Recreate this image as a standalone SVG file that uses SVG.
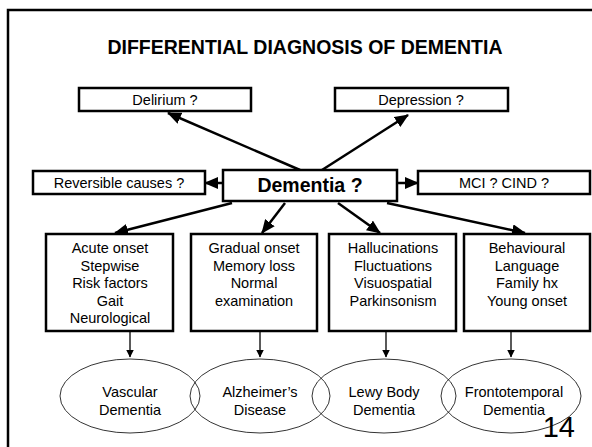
<svg xmlns="http://www.w3.org/2000/svg" width="592" height="447" viewBox="0 0 592 447">
<style>
text{font-family:"Liberation Sans",Arial,sans-serif;fill:#000;text-anchor:middle}
.t{font-size:14.5px}
.b{fill:#fff;stroke:#000;stroke-width:2.5}
.c{stroke:#000;stroke-width:2.5;fill:none}
.s{stroke:#000;stroke-width:1.3;fill:none}
.e{fill:none;stroke:#000;stroke-width:0.8}
</style>
<defs>
<marker id="ah" markerUnits="userSpaceOnUse" markerWidth="14" markerHeight="12" viewBox="0 0 14 12" refX="13" refY="6" orient="auto">
<path d="M0,0 L14,6 L0,12 Z" fill="#000"/>
</marker>
<marker id="sh" markerUnits="userSpaceOnUse" markerWidth="8" markerHeight="8" viewBox="0 0 8 8" refX="7.5" refY="4" orient="auto">
<path d="M0,0 L8,4 L0,8 Z" fill="#000"/>
</marker>
</defs>
<rect x="0" y="0" width="592" height="447" fill="#fff"/>
<path d="M8,447 V10 H592" fill="none" stroke="#000" stroke-width="2.5"/>
<text x="305" y="54" style="font-size:19.5px;font-weight:bold">DIFFERENTIAL DIAGNOSIS OF DEMENTIA</text>

<g id="connectors">
<line class="c" x1="300" y1="170" x2="168" y2="113" marker-end="url(#ah)"/>
<line class="c" x1="322" y1="170" x2="408" y2="115" marker-end="url(#ah)"/>
<line class="c" x1="223" y1="183" x2="205" y2="183" marker-end="url(#ah)"/>
<line class="c" x1="397" y1="183" x2="418" y2="183" marker-end="url(#ah)"/>
<line class="c" x1="232" y1="203" x2="115" y2="233" marker-end="url(#ah)"/>
<line class="c" x1="285" y1="203" x2="262" y2="233" marker-end="url(#ah)"/>
<line class="c" x1="338" y1="203" x2="380" y2="233" marker-end="url(#ah)"/>
<line class="c" x1="387" y1="203" x2="525" y2="233" marker-end="url(#ah)"/>
<line class="s" x1="130" y1="331" x2="130" y2="357" marker-end="url(#sh)"/>
<line class="s" x1="260" y1="331" x2="260" y2="357" marker-end="url(#sh)"/>
<line class="s" x1="386" y1="331" x2="386" y2="357" marker-end="url(#sh)"/>
<line class="s" x1="511" y1="331" x2="511" y2="357" marker-end="url(#sh)"/>
</g>

<g id="delirium"><rect class="b" x="79" y="88" width="172" height="23"/><text class="t" x="165" y="105">Delirium ?</text></g>
<g id="depression"><rect class="b" x="335" y="88" width="173" height="23"/><text class="t" x="421" y="105">Depression ?</text></g>
<g id="reversible"><rect class="b" x="33" y="171" width="172" height="23"/><text class="t" x="119" y="188">Reversible causes ?</text></g>
<g id="dementia"><rect class="b" x="223" y="170" width="174" height="31"/><text x="310" y="192" style="font-size:19.5px;font-weight:bold">Dementia ?</text></g>
<g id="mci"><rect class="b" x="418" y="171" width="172" height="23"/><text class="t" x="504" y="188">MCI ? CIND ?</text></g>

<g id="vascular-features"><rect class="b" x="46" y="234" width="127" height="97"/>
<text class="t" x="110" y="253">Acute onset</text><text class="t" x="110" y="271">Stepwise</text><text class="t" x="110" y="288">Risk factors</text><text class="t" x="110" y="306">Gait</text><text class="t" x="110" y="323">Neurological</text></g>
<g id="alzheimer-features"><rect class="b" x="191" y="234" width="126" height="97"/>
<text class="t" x="254" y="253">Gradual onset</text><text class="t" x="254" y="271">Memory loss</text><text class="t" x="254" y="288">Normal</text><text class="t" x="254" y="306">examination</text></g>
<g id="lewy-features"><rect class="b" x="329" y="234" width="127" height="97"/>
<text class="t" x="393" y="253">Hallucinations</text><text class="t" x="393" y="271">Fluctuations</text><text class="t" x="393" y="288">Visuospatial</text><text class="t" x="393" y="306">Parkinsonism</text></g>
<g id="ftd-features"><rect class="b" x="464" y="234" width="126" height="97"/>
<text class="t" x="527" y="253">Behavioural</text><text class="t" x="527" y="271">Language</text><text class="t" x="527" y="288">Family hx</text><text class="t" x="527" y="306">Young onset</text></g>

<g id="vascular"><ellipse class="e" cx="130" cy="396" rx="70" ry="37"/><text class="t" x="130" y="397">Vascular</text><text class="t" x="130" y="415">Dementia</text></g>
<g id="alzheimer"><ellipse class="e" cx="260" cy="396" rx="70" ry="37"/><text class="t" x="260" y="397">Alzheimer’s</text><text class="t" x="260" y="415">Disease</text></g>
<g id="lewy"><ellipse class="e" cx="384" cy="396" rx="72" ry="37"/><text class="t" x="384" y="397">Lewy Body</text><text class="t" x="384" y="415">Dementia</text></g>
<g id="ftd"><ellipse class="e" cx="511" cy="396" rx="70" ry="37"/><text class="t" x="514" y="397">Frontotemporal</text><text class="t" x="514" y="415">Dementia</text></g>
<text x="575" y="437" style="font-size:29px;text-anchor:end">14</text>
</svg>
